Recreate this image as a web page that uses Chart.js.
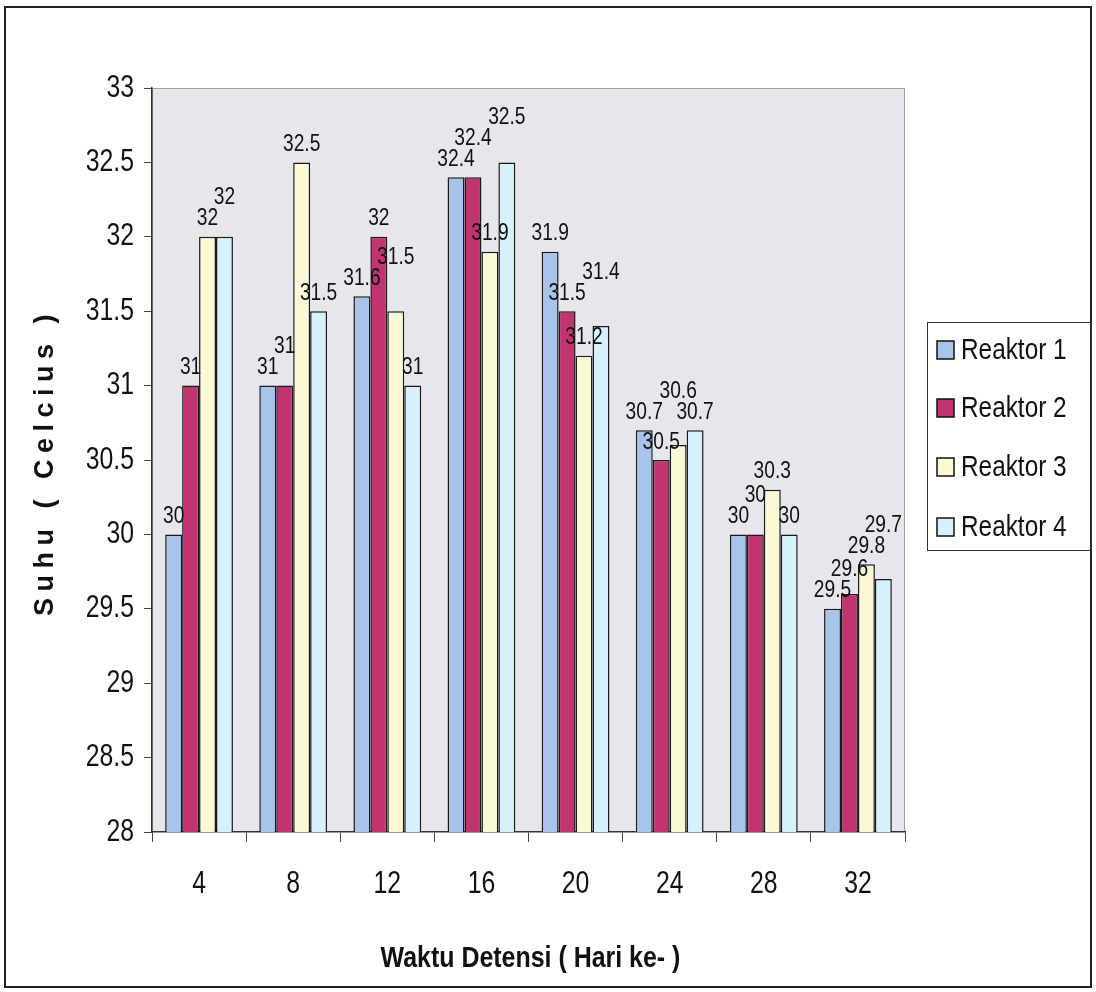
<!DOCTYPE html>
<html>
<head>
<meta charset="utf-8">
<script src="https://cdn.jsdelivr.net/npm/chart.js@4.4.1/dist/chart.umd.min.js"></script>
<style>
  html, body { margin: 0; padding: 0; background: #ffffff; }
  #wrap { width: 1096px; height: 992px; position: relative; }
</style>
</head>
<body>
<div id="wrap"><canvas id="c" width="1096" height="992"></canvas></div>
<script>
const categories = ['4', '8', '12', '16', '20', '24', '28', '32'];
const reaktor1 = [30, 31, 31.6, 32.4, 31.9, 30.7, 30, 29.5];
const reaktor2 = [31, 31, 32, 32.4, 31.5, 30.5, 30, 29.6];
const reaktor3 = [32, 32.5, 31.5, 31.9, 31.2, 30.6, 30.3, 29.8];
const reaktor4 = [32, 31.5, 31, 32.5, 31.4, 30.7, 30, 29.7];
const seriesNames = ['Reaktor 1', 'Reaktor 2', 'Reaktor 3', 'Reaktor 4'];
const yMin = 28, yMax = 33, yStep = 0.5;
const xTitle = 'Waktu Detensi ( Hari ke- )';
const yTitle = 'Suhu ( Celcius )';

const colors = ['#a8c4ea', '#c2346f', '#fbf8d6', '#d6f0fc'];
const FONT = '"Liberation Sans", Arial, sans-serif';
const NARROW = 0.8;

const PLOT = { left: 152, top: 88, right: 905, bottom: 832 };
const W = 1096, H = 992;

function narrowText(ctx, text, x, y, sx, align) {
  ctx.save();
  ctx.translate(x, y);
  ctx.scale(sx, 1);
  ctx.textAlign = align;
  ctx.fillText(text, 0, 0);
  ctx.restore();
}

const frame = {
  id: 'frame',
  beforeDraw(chart) {
    const ctx = chart.ctx;
    const a = chart.chartArea;
    ctx.save();
    ctx.fillStyle = '#ffffff';
    ctx.fillRect(0, 0, W, H);
    ctx.fillStyle = '#e6e6ec';
    ctx.fillRect(a.left, a.top, a.right - a.left, a.bottom - a.top);
    ctx.strokeStyle = '#a0a0a0';
    ctx.lineWidth = 1;
    ctx.strokeRect(a.left + 0.5, a.top + 0.5, a.right - a.left - 1, a.bottom - a.top - 1);
    ctx.restore();
  },
  afterDraw(chart) {
    const ctx = chart.ctx;
    ctx.save();
    ctx.fillStyle = '#111';
    const xs = chart.scales.x, ys = chart.scales.y;
    ctx.font = '31px ' + FONT;
    ctx.textBaseline = 'middle';
    xs.ticks.forEach((t, i) => {
      narrowText(ctx, categories[i], xs.getPixelForTick(i), 884, NARROW, 'center');
    });
    ys.ticks.forEach((t) => {
      narrowText(ctx, String(t.value), 134, ys.getPixelForValue(t.value), NARROW, 'right');
    });
    ctx.font = 'bold 29px ' + FONT;
    narrowText(ctx, xTitle, (PLOT.left + PLOT.right) / 2 + 2, 959, 0.86, 'center');
    ctx.save();
    ctx.translate(46, 462);
    ctx.rotate(-Math.PI / 2);
    ctx.font = 'bold 27px ' + FONT;
    ctx.letterSpacing = '6.5px';
    ctx.textAlign = 'center';
    ctx.fillText(yTitle, 0, 0);
    ctx.restore();
    ctx.strokeStyle = '#222';
    ctx.lineWidth = 2;
    ctx.strokeRect(5, 7, 1086, 980);
    const lx = 927, ly = 322, lw = 164, lh = 228;
    ctx.strokeStyle = '#333';
    ctx.lineWidth = 1;
    ctx.strokeRect(lx + 0.5, ly + 0.5, lw, lh);
    const ly2 = [350, 408, 467, 527];
    ctx.font = '29px ' + FONT;
    ctx.textBaseline = 'middle';
    chart.data.datasets.forEach((ds, i) => {
      ctx.fillStyle = ds.backgroundColor;
      ctx.fillRect(937, ly2[i] - 9, 17, 18);
      ctx.strokeStyle = '#111';
      ctx.lineWidth = 1.5;
      ctx.strokeRect(937, ly2[i] - 9, 17, 18);
      ctx.fillStyle = '#111';
      narrowText(ctx, ds.label, 961, ly2[i] + 1, 0.84, 'left');
    });
    ctx.restore();
  },
  afterDatasetsDraw(chart) {
    const ctx = chart.ctx;
    ctx.save();
    ctx.font = '24px ' + FONT;
    ctx.fillStyle = '#111';
    ctx.textBaseline = 'bottom';
    const n = chart.data.datasets.length;
    const count = chart.data.labels.length;
    const LH = 20;
    for (let j = 0; j < count; j++) {
      const placed = [];
      for (let i = 0; i < n; i++) {
        const ds = chart.data.datasets[i];
        const bar = chart.getDatasetMeta(i).data[j];
        const txt = String(ds.data[j]);
        const w = ctx.measureText(txt).width * NARROW;
        const cx = bar.x;
        let yb = bar.y - 6;
        for (let iter = 0; iter < 6; iter++) {
          let moved = false;
          placed.forEach(p => {
            const hOverlap = cx - w / 2 < p.r - 1 && cx + w / 2 > p.l + 1;
            const vOverlap = yb - LH < p.yb && yb > p.yt;
            if (hOverlap && vOverlap) { yb = p.yt - 1; moved = true; }
          });
          if (!moved) break;
        }
        placed.push({ l: cx - w / 2, r: cx + w / 2, yt: yb - LH, yb });
        narrowText(ctx, txt, cx, yb, NARROW, 'center');
      }
    }
    ctx.restore();
  }
};

const datasets = [reaktor1, reaktor2, reaktor3, reaktor4].map((d, i) => ({
  label: seriesNames[i],
  data: d,
  backgroundColor: colors[i],
  borderColor: '#1a1a1a',
  borderWidth: 1.5,
  borderSkipped: 'bottom',
  categoryPercentage: 0.72,
  barPercentage: 1.0
}));

new Chart(document.getElementById('c'), {
  type: 'bar',
  data: { labels: categories, datasets },
  options: {
    responsive: false,
    animation: false,
    devicePixelRatio: 1,
    layout: { padding: { left: 0, top: PLOT.top, right: W - PLOT.right, bottom: 0 } },
    plugins: { legend: { display: false }, tooltip: { enabled: false } },
    scales: {
      x: {
        afterFit(s) { s.height = H - PLOT.bottom; },
        grid: { drawOnChartArea: false, drawTicks: true, tickLength: 10, color: '#444', offset: true },
        border: { display: true, color: '#333', width: 1.5 },
        ticks: { color: 'rgba(0,0,0,0)', font: { family: FONT, size: 30 }, padding: 22 }
      },
      y: {
        min: yMin, max: yMax,
        afterFit(s) { s.width = PLOT.left; },
        afterBuildTicks(s) {
          const t = [];
          for (let v = yMin; v <= yMax + 1e-9; v += yStep) t.push({ value: Math.round(v * 10) / 10 });
          s.ticks = t;
        },
        grid: { drawOnChartArea: false, drawTicks: true, tickLength: 8, color: '#444' },
        border: { display: true, color: '#333', width: 1.5 },
        ticks: { color: 'rgba(0,0,0,0)', font: { family: FONT, size: 30 }, padding: 10, callback: v => String(v) }
      }
    }
  },
  plugins: [frame]
});
</script>
</body>
</html>
